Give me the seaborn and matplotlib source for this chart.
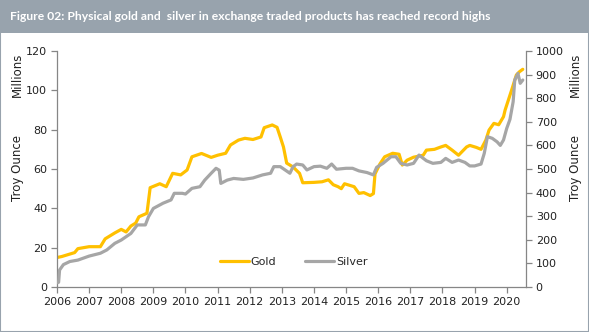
import matplotlib
matplotlib.use("Agg")
import matplotlib.pyplot as plt
from matplotlib.patches import Rectangle
from matplotlib.lines import Line2D
import seaborn as sns
import pandas as pd

title = "Figure 02: Physical gold and  silver in exchange traded products has reached record highs"

gold_years = [2006.00, 2006.15, 2006.35, 2006.55, 2006.65, 2007.00, 2007.35, 2007.5, 2007.8, 2008.0,
              2008.15, 2008.3, 2008.45, 2008.55, 2008.8, 2008.9, 2009.05, 2009.2, 2009.4, 2009.6,
              2009.85, 2010.05, 2010.2, 2010.5, 2010.8, 2011.0, 2011.25, 2011.4, 2011.65, 2011.85,
              2012.1, 2012.35, 2012.45, 2012.7, 2012.85, 2012.95, 2013.05, 2013.15, 2013.35, 2013.55,
              2013.65, 2014.0, 2014.25, 2014.45, 2014.6, 2014.75, 2014.85, 2014.95, 2015.15, 2015.25,
              2015.4, 2015.55, 2015.75, 2015.85, 2015.9, 2016.05, 2016.2, 2016.45, 2016.65, 2016.75,
              2016.9, 2017.1, 2017.4, 2017.5, 2017.75, 2017.95, 2018.1, 2018.3, 2018.5, 2018.75,
              2018.85, 2019.05, 2019.2, 2019.35, 2019.45, 2019.6, 2019.75, 2019.9, 2019.95, 2020.05,
              2020.15, 2020.3, 2020.4, 2020.5]
gold_values = [15.0, 15.5, 16.5, 17.5, 19.5, 20.5, 20.5, 24.5, 27.5, 29.3,
               28.0, 31.0, 32.5, 35.7, 37.5, 50.5, 51.5, 52.5, 51.0, 57.8,
               57.0, 59.5, 66.2, 67.9, 65.9, 67.0, 68.0, 72.2, 74.7, 75.6,
               75.0, 76.3, 81.0, 82.4, 81.2, 76.3, 71.2, 63.0, 61.0, 57.8,
               53.0, 53.2, 53.5, 54.5, 52.0, 51.0, 50.0, 52.5, 51.5, 51.0,
               47.6, 48.0, 46.5, 47.5, 57.5, 62.5, 66.2, 68.0, 67.5, 62.0,
               64.5, 66.0, 67.0, 69.6, 70.0, 71.2, 72.0, 69.6, 67.0, 71.2,
               72.0, 71.0, 70.0, 74.7, 79.8, 83.2, 82.5, 86.6, 90.0, 95.0,
               100.0, 107.8, 109.5, 110.7]

silver_years = [2006.00, 2006.05, 2006.08, 2006.2, 2006.4, 2006.65, 2007.0, 2007.35, 2007.55, 2007.8,
                2008.0, 2008.3, 2008.5, 2008.75, 2008.85, 2009.0, 2009.3, 2009.55, 2009.65, 2009.9,
                2010.0, 2010.2, 2010.45, 2010.6, 2010.8, 2010.95, 2011.05, 2011.1, 2011.3, 2011.5,
                2011.8, 2012.1, 2012.4, 2012.65, 2012.75, 2012.95, 2013.1, 2013.25, 2013.35, 2013.46,
                2013.65, 2013.78, 2014.0, 2014.2, 2014.4, 2014.55, 2014.7, 2015.0, 2015.2, 2015.4,
                2015.65, 2015.85, 2015.95, 2016.15, 2016.4, 2016.55, 2016.7, 2016.9, 2017.1, 2017.27,
                2017.5, 2017.7, 2017.95, 2018.1, 2018.3, 2018.5, 2018.7, 2018.85, 2019.0, 2019.2,
                2019.3, 2019.4, 2019.55, 2019.7, 2019.8, 2019.9, 2020.0, 2020.1, 2020.2, 2020.25,
                2020.35, 2020.42, 2020.5]
silver_values = [18, 20, 72, 95, 108, 114, 131, 143, 157, 185,
                 199, 227, 263, 263, 298, 333, 355, 369, 397, 397,
                 394, 418, 425, 453, 482, 503, 495, 439, 453, 460,
                 456, 462, 475, 482, 510, 510, 496, 482, 510, 521,
                 517, 496, 510, 512, 503, 521, 499, 503, 503, 492,
                 485, 475, 507, 524, 552, 552, 524, 517, 524, 559,
                 535, 524, 528, 545, 528, 538, 528, 513, 513, 521,
                 566, 637, 630, 615, 600, 623, 672, 710, 785, 877,
                 905, 863, 877]

left_ticks = [0, 20, 40, 60, 80, 100, 120]
right_ticks = [0, 100, 200, 300, 400, 500, 600, 700, 800, 900, 1000]
year_ticks = list(range(2006, 2021))

GOLD = "#FFC000"
SILVER = "#A6A6A6"
BAR = "#98A3AD"

sns.set_style("white")
plt.rcParams["font.family"] = ["DejaVu Sans"]

fig = plt.figure(figsize=(5.89, 3.32), dpi=100)
# frame
fig.patches.append(Rectangle((0, 0), 1, 1, transform=fig.transFigure, facecolor="white",
                             edgecolor=BAR, linewidth=1.5, zorder=-2))
fig.patches.append(Rectangle((0, 1 - 33 / 332), 1, 33 / 332, transform=fig.transFigure,
                             facecolor=BAR, edgecolor="none", zorder=-1))
fig.text(10 / 589, 1 - 17 / 332, title, color="white", fontsize=8.7, fontweight="bold",
         family=["Lato", "DejaVu Sans"], va="center", ha="left")

ax = fig.add_axes([57 / 589, 1 - 287 / 332, (526 - 57) / 589, (287 - 51) / 332])
ax.set_facecolor("none")
ax2 = ax.twinx()

gdf = pd.DataFrame({"year": gold_years, "value": gold_values})
sdf = pd.DataFrame({"year": silver_years, "value": silver_values})
sns.lineplot(data=gdf, x="year", y="value", ax=ax, color=GOLD, linewidth=2.3, legend=False)
sns.lineplot(data=sdf, x="year", y="value", ax=ax2, color=SILVER, linewidth=2.3, legend=False)

ax.set_xlim(2006, 2020.6)
ax.set_ylim(0, 120)
ax2.set_ylim(0, 1000)
ax.set_xticks(year_ticks)
ax.set_xticklabels([str(y) for y in year_ticks])
ax.set_yticks(left_ticks)
ax2.set_yticks(right_ticks)

for a in (ax, ax2):
    a.set_xlabel("")
    a.set_ylabel("")
    for s in a.spines.values():
        s.set_color("#868686")
        s.set_linewidth(0.9)
    a.spines["top"].set_visible(False)
    a.tick_params(axis="both", which="both", length=4, width=0.9, color="#868686",
                  labelsize=8, labelcolor="#222222", pad=3, direction="out")
ax.spines["right"].set_visible(False)
ax2.spines["left"].set_visible(False)
ax2.spines["bottom"].set_visible(False)
ax.tick_params(axis="y", left=True)
ax.tick_params(axis="x", bottom=True)
ax2.tick_params(axis="y", right=True)

# axis labels
for x in (17 / 589, 575 / 589):
    fig.text(x, 1 - 75 / 332, "Millions", rotation=90, fontsize=8.5, va="center", ha="center",
             color="#222222")
    fig.text(x, 1 - 168 / 332, "Troy Ounce", rotation=90, fontsize=8.5, va="center", ha="center",
             color="#222222")

handles = [Line2D([], [], color=GOLD, linewidth=2.3), Line2D([], [], color=SILVER, linewidth=2.3)]
ax2.legend(handles, ["Gold", "Silver"], ncol=2, frameon=False, loc="center",
           bbox_to_anchor=(0.505, 0.106), fontsize=8, handlelength=2.6, handletextpad=0.15,
           columnspacing=2.6)

fig.savefig("out.png", dpi=100)
